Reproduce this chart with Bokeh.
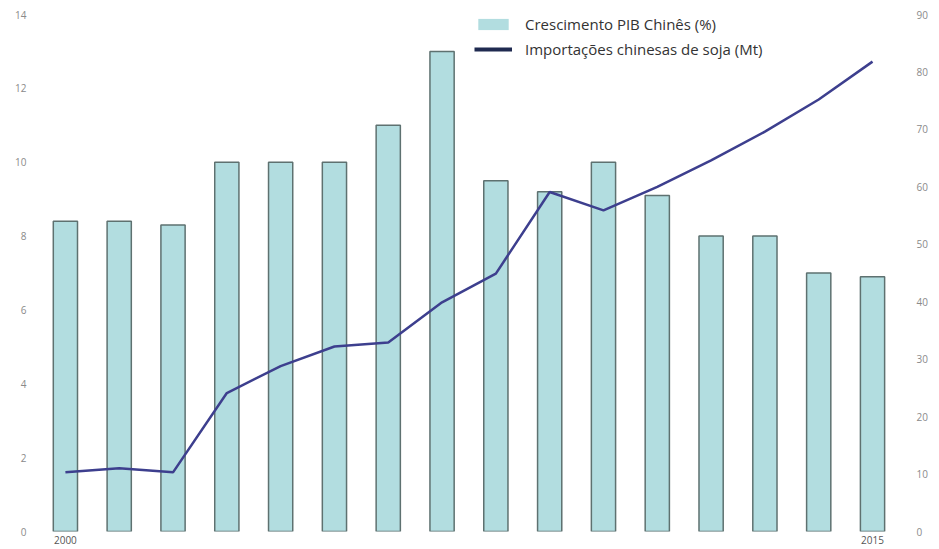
from bokeh.plotting import figure
from bokeh.models import ColumnDataSource, Range1d, LinearAxis, FixedTicker, Legend, LegendItem
from bokeh.embed import file_html
from bokeh.resources import INLINE

# ---- data ----
years = list(range(2000, 2016))
gdp_growth = [8.4, 8.4, 8.3, 10.0, 10.0, 10.0, 11.0, 13.0, 9.5, 9.2, 10.0, 9.1, 8.0, 8.0, 7.0, 6.9]
soy_imports = [10.3, 11.0, 10.3, 24.1, 28.8, 32.2, 32.9, 39.9, 44.9, 59.1, 55.9, 60.0, 64.6, 69.6, 75.2, 81.8]
left_ticks = [0, 2, 4, 6, 8, 10, 12, 14]
right_ticks = [0, 10, 20, 30, 40, 50, 60, 70, 80, 90]
x_ticks = [2000, 2015]
label_gdp = "Crescimento PIB Chinês (%)"
label_soy = "Importações chinesas de soja (Mt)"

FONT = "Open Sans"

src = ColumnDataSource(dict(year=years, gdp=gdp_growth, soy=soy_imports))

p = figure(width=939, height=549, output_backend="svg", toolbar_location=None,
           x_range=Range1d(1999.5, 2015.52), y_range=Range1d(0, 14),
           min_border_left=38, min_border_right=39, min_border_top=14, min_border_bottom=18)
p.extra_y_ranges = {"soy": Range1d(0, 90)}
p.background_fill_color = "white"
p.border_fill_color = "white"
p.outline_line_color = None
p.xgrid.visible = False
p.ygrid.visible = False

# bars: fill (used by legend) + outline on top
bar_fill = p.vbar(x="year", top="gdp", width=0.45, source=src,
                  fill_color="#b2dde0", line_color=None)
bar_edge = p.vbar(x="year", top="gdp", width=0.45, source=src,
                  fill_color=None, line_color="#5e7170", line_width=1.5)
line = p.line(x="year", y="soy", source=src, y_range_name="soy",
              line_color="#3d3f8e", line_width=2.5)

# legend-only line style (single point -> draws nothing on the plot)
leg_line = p.line(x=years[:1], y=soy_imports[:1], y_range_name="soy",
                  line_color="#1f2a50", line_width=4)

# axes styling
def style_axis(ax, color="#8a8a8a", size="10px"):
    ax.axis_line_color = None
    ax.major_tick_line_color = None
    ax.minor_tick_line_color = None
    ax.major_tick_out = 0
    ax.major_tick_in = 0
    ax.major_label_text_font = FONT
    ax.major_label_text_font_size = size
    ax.major_label_text_color = color

yl = p.yaxis[0]
yl.ticker = FixedTicker(ticks=left_ticks)
style_axis(yl)
yl.major_label_standoff = 12

xa = p.xaxis[0]
xa.ticker = FixedTicker(ticks=x_ticks)
style_axis(xa, color="#555555", size="10px")
xa.major_label_standoff = 4

yr = LinearAxis(y_range_name="soy", ticker=FixedTicker(ticks=right_ticks))
style_axis(yr)
yr.major_label_standoff = 16
p.add_layout(yr, "right")

legend = Legend(items=[LegendItem(label=label_gdp, renderers=[bar_fill]),
                       LegendItem(label=label_soy, renderers=[leg_line])],
                location=(436, 472), orientation="vertical",
                padding=0, margin=0, spacing=5,
                glyph_width=38, glyph_height=14, label_height=20, label_standoff=13,
                label_text_font=FONT, label_text_font_size="15px", label_text_color="#333333",
                border_line_color=None, background_fill_alpha=0)
p.add_layout(legend, "center")

open("out.html", "w").write(file_html(p, INLINE))
